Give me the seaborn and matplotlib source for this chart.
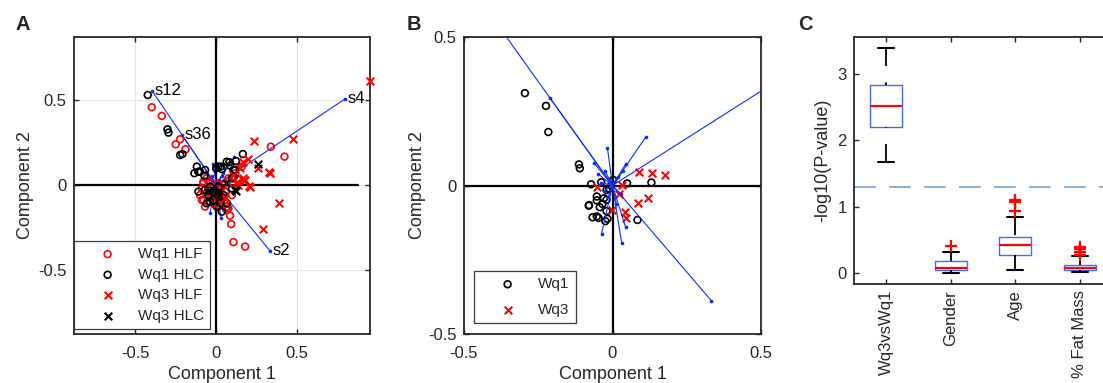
import numpy as np
import pandas as pd
import matplotlib
matplotlib.use("Agg")
import matplotlib.pyplot as plt
import seaborn as sns

# ---- Panel A: scores (Component 1, Component 2) ----
a_wq1_hlf_x = [-0.397, -0.335, -0.249, -0.222, -0.189, 0.338, 0.422, 0.086, 0.093, 0.107, 0.179, 0.159,
               0.066, 0.076, -0.088, -0.078, 0.099, -0.078, -0.058, -0.099, -0.078, -0.027, 0.014, 0.055,
               0.076, 0.097, 0.066, -0.068, -0.016, 0.025, -0.088, -0.047, 0.045, 0.138, -0.06, -0.03,
               0.0, 0.03, -0.05, 0.02, 0.05, 0.12]
a_wq1_hlf_y = [0.457, 0.406, 0.239, 0.269, 0.21, 0.225, 0.167, -0.18, -0.23, -0.336, -0.362, 0.108,
               -0.127, -0.137, -0.088, 0.02, 0.04, 0.01, 0.039, -0.059, -0.088, -0.02, 0.01, -0.039,
               0.039, -0.059, -0.147, -0.127, -0.108, -0.088, -0.02, 0.02, 0.0, 0.029, -0.06, -0.07,
               -0.05, -0.02, -0.1, -0.12, -0.09, 0.07]
a_wq1_hlc_x = [-0.422, -0.3, -0.294, -0.222, -0.208, -0.119, -0.134, -0.099, -0.11, -0.072, -0.068, 0.0,
               0.029, 0.082, 0.123, 0.165, 0.107, 0.107, 0.097, -0.109, -0.058, -0.016, 0.025, 0.045,
               -0.037, 0.015, -0.047, -0.037, -0.006, 0.035, 0.066, 0.097, -0.068, 0.004, 0.035, 0.086,
               0.117, 0.066, 0.035, 0.014]
a_wq1_hlc_y = [0.529, 0.327, 0.308, 0.176, 0.182, 0.108, 0.069, 0.077, 0.078, 0.055, 0.088, 0.098,
               0.108, 0.134, 0.141, 0.182, 0.088, 0.05, 0.039, -0.039, -0.108, -0.088, -0.108, -0.059,
               -0.01, -0.01, -0.059, -0.098, -0.039, -0.069, -0.108, -0.02, -0.029, -0.127, -0.157, 0.114,
               0.088, 0.137, 0.094, 0.108]
a_wq3_hlf_x = [0.951, 0.235, 0.473, 0.2, 0.148, 0.261, 0.329, 0.333, 0.179, 0.206, 0.389, 0.292,
               0.107, 0.132, 0.066, 0.165, 0.175, 0.076, 0.055, 0.169, 0.21, 0.138]
a_wq3_hlf_y = [0.614, 0.257, 0.272, 0.151, 0.1, 0.098, 0.076, 0.07, 0.029, -0.004, -0.108, -0.261,
               0.06, 0.02, 0.02, 0.137, 0.029, 0.02, -0.078, 0.039, -0.01, 0.0]
a_wq3_hlc_x = [0.257, 0.123, -0.016, -0.05, 0.117, 0.014, 0.06]
a_wq3_hlc_y = [0.124, -0.035, -0.03, -0.04, -0.029, -0.039, 0.01]

# ---- loading vectors (shared by A and B) ----
vec_x = [-0.395, -0.21, 0.796, 0.333, 0.112, -0.017, 0.045, -0.063, -0.037, 0.031, 0.044,
         -0.049, -0.026, 0.036, 0.02, -0.03, 0.013, -0.015, 0.03, -0.04]
vec_y = [0.553, 0.294, 0.506, -0.388, 0.163, 0.126, 0.073, 0.077, -0.162, -0.194, -0.14,
         0.039, 0.05, 0.05, 0.03, -0.02, -0.062, -0.04, -0.03, 0.01]
vec_labels = ["s12", "s36", "s4", "s2"]

# ---- Panel B ----
b_wq1_x = [-0.295, -0.224, -0.216, -0.113, -0.11, -0.072, -0.038, 0.002, 0.049, 0.131, 0.084, -0.079,
           -0.053, -0.053, -0.029, -0.02, -0.043, -0.034, -0.02, -0.067, -0.053, -0.047, -0.024, -0.017,
           -0.011, -0.02, -0.005, -0.08]
b_wq1_y = [0.311, 0.268, 0.18, 0.071, 0.058, 0.004, 0.011, 0.019, 0.007, 0.01, -0.116, -0.066,
           -0.037, -0.05, -0.043, -0.048, -0.073, -0.062, -0.086, -0.107, -0.104, -0.109, -0.12, -0.112,
           -0.011, -0.015, 0.0, -0.068]
b_wq3_x = [-0.052, -0.003, 0.022, 0.032, 0.041, 0.045, 0.089, 0.132, 0.176, 0.086, 0.118]
b_wq3_y = [-0.006, -0.084, -0.03, 0.002, -0.09, -0.109, 0.045, 0.041, 0.036, -0.06, -0.041]

# ---- Panel C: -log10(P-value) ----
c_labels = ["Wq3vsWq1", "Gender", "Age", "% Fat Mass"]
c_wq3vswq1 = [1.68, 1.95, 2.2, 2.4, 2.52, 2.65, 2.835, 3.1, 3.39]
c_gender = [0.0, 0.03, 0.055, 0.07, 0.085, 0.13, 0.19, 0.32, 0.41]
c_age = [0.055, 0.12, 0.18, 0.23, 0.28, 0.32, 0.36, 0.39, 0.42, 0.45, 0.48, 0.51, 0.54,
         0.855, 0.945, 1.07, 1.1]
c_fat = [0.015, 0.02, 0.025, 0.03, 0.04, 0.045, 0.05, 0.06, 0.07, 0.08, 0.085, 0.09, 0.10,
         0.11, 0.12, 0.13, 0.255, 0.28, 0.32, 0.36, 0.40]
sig_level = 1.301

ticks_ab = [-0.5, 0, 0.5]
tick_labels_ab = ["-0.5", "0", "0.5"]
ticks_c = [0, 1, 2, 3]

sns.set_theme(style="ticks")
plt.rcParams['font.family'] = ['Liberation Sans', 'DejaVu Sans']
plt.rcParams['axes.unicode_minus'] = False

DARK = "#262626"
BLUE = "#0a2dff"
W, H = 1103, 383

fig = plt.figure(figsize=(11.03, 3.83), dpi=100)


def px_axes(l, t, r, b):
    return fig.add_axes([l / W, 1 - b / H, (r - l) / W, (b - t) / H])


def style_axes(ax, xpad=9, ypad=5.5):
    for s in ax.spines.values():
        s.set_color(DARK)
        s.set_linewidth(1.3)
        s.set_visible(True)
    ax.tick_params(direction="in", length=3.5, width=1.0, color=DARK, labelcolor=DARK,
                   labelsize=12, top=True, right=True, bottom=True, left=True)
    ax.tick_params(axis="x", pad=xpad)
    ax.tick_params(axis="y", pad=ypad)


def scatter_group(ax, xs, ys, color, marker, label, z=3):
    df = pd.DataFrame({"x": xs, "y": ys})
    if marker == "o":
        sns.scatterplot(data=df, x="x", y="y", ax=ax, marker="o", s=24, facecolors="none",
                        edgecolor=color, linewidth=1.2, label=label, zorder=z)
    else:
        sns.scatterplot(data=df, x="x", y="y", ax=ax, marker="x", s=30, color=color,
                        edgecolor=color, linewidth=1.5, label=label, zorder=z)
    ax.collections[-1].set_clip_on(False)


def draw_vectors(ax, z, labels=None):
    for vx, vy in zip(vec_x, vec_y):
        ax.plot([0, vx], [0, vy], color=BLUE, lw=0.8, zorder=z)
    sns.scatterplot(x=vec_x, y=vec_y, ax=ax, color=BLUE, s=7, edgecolor=BLUE, linewidth=0,
                    zorder=z, legend=False)
    if labels:
        for lab, vx, vy in zip(labels, vec_x, vec_y):
            ax.annotate(lab, (vx, vy), xytext=(1.5, 0), textcoords="offset points",
                        ha="left", va="center", fontsize=12, color="black", zorder=z + 2)


# ---------------- A ----------------
axA = px_axes(74, 37, 370, 334)
axA.set_xlim(-0.877, 0.95)
axA.set_ylim(-0.876, 0.87)
axA.grid(True, color="#e4e4e4", lw=0.8)
axA.set_axisbelow(True)
axA.plot([-0.877, 0.877], [0, 0], color="black", lw=1.6, zorder=1)
axA.plot([0, 0], [-0.877, 0.877], color="black", lw=1.6, zorder=1)
draw_vectors(axA, 2, vec_labels)
scatter_group(axA, a_wq1_hlf_x, a_wq1_hlf_y, "red", "o", "Wq1 HLF")
scatter_group(axA, a_wq1_hlc_x, a_wq1_hlc_y, "black", "o", "Wq1 HLC")
scatter_group(axA, a_wq3_hlf_x, a_wq3_hlf_y, "red", "x", "Wq3 HLF")
scatter_group(axA, a_wq3_hlc_x, a_wq3_hlc_y, "black", "x", "Wq3 HLC")
axA.set_xticks(ticks_ab, tick_labels_ab)
axA.set_yticks(ticks_ab, tick_labels_ab)
style_axes(axA)
axA.set_xlabel("Component 1", fontsize=13, color=DARK, labelpad=3)
axA.set_ylabel("Component 2", fontsize=13, color=DARK, labelpad=3)
legA = axA.legend(loc="lower left", bbox_to_anchor=(0, 5 / 297), borderaxespad=0, fontsize=11,
                  frameon=True, fancybox=False, edgecolor="#3a3a3a", framealpha=1,
                  handlelength=3.6, handletextpad=0.2, labelspacing=0.43, borderpad=0.4)
legA.get_frame().set_linewidth(0.9)
legA.set_zorder(10)

# ---------------- B ----------------
axB = px_axes(464, 37, 761, 334)
axB.set_xlim(-0.5, 0.5)
axB.set_ylim(-0.5, 0.5)
axB.axhline(0, color="black", lw=1.6, zorder=1)
axB.axvline(0, color="black", lw=1.6, zorder=1)
scatter_group(axB, b_wq1_x, b_wq1_y, "black", "o", "Wq1", z=2)
scatter_group(axB, b_wq3_x, b_wq3_y, "red", "x", "Wq3", z=2)
draw_vectors(axB, 3)
axB.set_xticks(ticks_ab, tick_labels_ab)
axB.set_yticks(ticks_ab, tick_labels_ab)
style_axes(axB)
axB.set_xlabel("Component 1", fontsize=13, color=DARK, labelpad=3)
axB.set_ylabel("Component 2", fontsize=13, color=DARK, labelpad=1)
legB = axB.legend(loc="lower left", bbox_to_anchor=(10 / 297, 11 / 297), borderaxespad=0, fontsize=11,
                  frameon=True, fancybox=False, edgecolor="#3a3a3a", framealpha=1,
                  handlelength=3.6, handletextpad=0.2, labelspacing=0.76, borderpad=0.4)
legB.get_frame().set_linewidth(0.9)
legB.set_zorder(10)

# ---------------- C ----------------
axC = px_axes(854, 37, 1112, 284)
c_df = pd.DataFrame({
    "group": [c_labels[0]] * len(c_wq3vswq1) + [c_labels[1]] * len(c_gender)
             + [c_labels[2]] * len(c_age) + [c_labels[3]] * len(c_fat),
    "value": c_wq3vswq1 + c_gender + c_age + c_fat,
})
sns.boxplot(data=c_df, x="group", y="value", order=c_labels, ax=axC, width=0.5, fill=False,
            linecolor="#3f6bff", whis=1.5,
            boxprops=dict(color="#3f6bff", linewidth=1.0),
            medianprops=dict(color="red", linewidth=1.6),
            whiskerprops=dict(color="black", linewidth=1.3, linestyle=(0, (10, 9))),
            capprops=dict(color="black", linewidth=1.5),
            flierprops=dict(marker="+", markeredgecolor="red", markerfacecolor="red",
                            markersize=8, markeredgewidth=1.6))
# dashes start from the whisker end, as in the reference
for ln in axC.lines:
    xd, yd = np.asarray(ln.get_xdata()), np.asarray(ln.get_ydata())
    if len(xd) == 2 and xd[0] == xd[1] and ln.get_linestyle() == "--":
        ln.set_data(xd[::-1], yd[::-1])
axC.axhline(sig_level, color="#6ea3d4", lw=1.2, ls=(0, (13, 8)), zorder=1)
axC.set_xlim(-0.5, 3.5)
axC.set_ylim(-0.16, 3.556)
axC.set_yticks(ticks_c, [str(t) for t in ticks_c])
style_axes(axC, xpad=4.3, ypad=5.3)
axC.tick_params(axis="x", labelrotation=90)
axC.set_xlabel("")
axC.set_ylabel("-log10(P-value)", fontsize=13, color=DARK, labelpad=4)

# panel letters
for letter, xp in [("A", 16), ("B", 407), ("C", 798)]:
    fig.text(xp / W, 1 - 25 / H, letter, fontsize=14.5, fontweight="bold", ha="left", va="center")

fig.savefig("out.png", dpi=100)
